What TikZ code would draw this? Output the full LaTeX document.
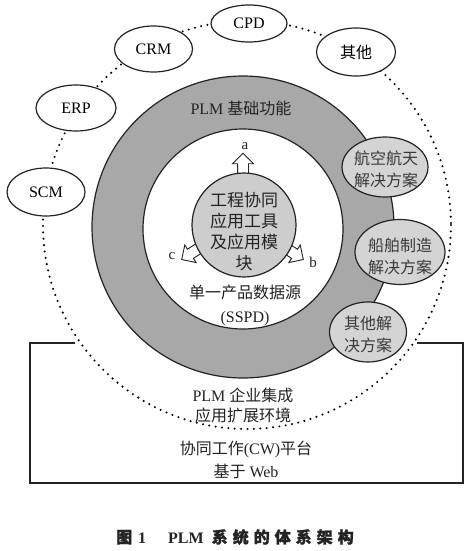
\documentclass[tikz,border=0pt]{standalone}
\usepackage{fontspec}
\setmainfont{Liberation Serif}
\newfontfamily\cjk{Noto Sans CJK SC}
\newfontfamily\cjkb{Noto Sans CJK SC}[FakeBold=1.2]
\usetikzlibrary{shapes.geometric,shapes.arrows}
\definecolor{ringgray}{RGB}{168,168,168}
\definecolor{coregray}{RGB}{205,205,205}
\definecolor{solgray}{RGB}{212,212,212}
\definecolor{ink}{RGB}{35,35,35}
\tikzset{
  outline/.style={draw=ink, line width=1.2pt},
  sysell/.style={ellipse, outline, fill=white, inner sep=0pt, font=\fontsize{16}{18}\selectfont},
  solell/.style={ellipse, outline, fill=solgray, inner sep=0pt},
  soltext/.style={align=center, font=\fontsize{16}{22}\cjk\selectfont, text=ink!90},
  blockarrow/.style={single arrow, draw=ink, line width=0.9pt, fill=white, minimum height=32pt, minimum width=20pt, inner sep=5pt, single arrow head extend=5pt, single arrow head indent=0pt},
  lbl/.style={text=ink, inner sep=0pt},
  dotline/.style={draw=black, line width=2.3pt, line cap=round, dash pattern=on 0pt off 6.4pt}
}
\begin{document}
\begin{tikzpicture}[x=1pt,y=-1pt]
\path[use as bounding box] (0,0) rectangle (471,551);
% dotted integration circle
\path[dotline] (247,225) circle[radius=204];
% platform box
\coordinate (tl) at (75,343);
\coordinate (tr) at (417,343);
\draw[outline] (tl) -- (30,343) -- (30,483) -- (463,483) -- (463,343) -- (tr);
% PLM ring
\node[circle, outline, fill=ringgray, minimum size=302pt, inner sep=0pt] (ring) at (243,227) {};
\node[circle, outline, fill=white, minimum size=200pt, inner sep=0pt] (sspd) at (243,229) {};
% block arrows (under core)
\node[blockarrow, rotate=90] (arra) at (243,172) {};
\node[blockarrow, rotate=-33] (arrb) at (287.6,249.3) {};
\node[blockarrow, rotate=-147] (arrc) at (197.4,249.3) {};
% core
\node[circle, outline, fill=coregray, minimum size=104pt, inner sep=0pt] (core) at (244,225) {};
% solution ellipses
\node[solell, minimum width=86pt, minimum height=60pt] (aero) at (385,167) {};
\node[solell, minimum width=90pt, minimum height=65pt] (ship) at (400,252) {};
\node[solell, minimum width=77pt, minimum height=60pt] (othsol) at (368,332) {};
% system ellipses
\node[sysell, minimum width=76pt, minimum height=37pt] (cpd) at (249,23.5) {CPD};
\node[sysell, minimum width=78pt, minimum height=46pt] (crm) at (153.5,49) {CRM};
\node[sysell, minimum width=79pt, minimum height=48pt, font=\fontsize{16}{18}\cjk\selectfont] (oth) at (356,52) {其他};
\node[sysell, minimum width=80pt, minimum height=46pt] (erp) at (76,108) {ERP};
\node[sysell, minimum width=78pt, minimum height=48pt] (scm) at (46,192) {SCM};
% texts
\node[lbl, font=\fontsize{16}{18}\selectfont] (plmbase) at (241,108) {PLM {\cjk 基础功能}};
\node[lbl, font=\fontsize{15}{18}\selectfont] (la) at (245,146) {a};
\node[lbl, font=\fontsize{15}{18}\selectfont] (lb) at (313,262) {b};
\node[lbl, font=\fontsize{15}{18}\selectfont] (lc) at (172,256) {c};
\node[lbl, align=center, font=\fontsize{17}{21.2}\cjk\selectfont] (coretext) at (244,231.5) {工程协同\\应用工具\\及应用模\\块};
\node[lbl, align=center, font=\fontsize{16}{24}\selectfont] (sspdtext) at (245,305) {{\cjk 单一产品数据源}\\(SSPD)};
\node[soltext] (aerot) at (386,169) {航空航天\\解决方案};
\node[soltext] (shipt) at (400,256) {船舶制造\\解决方案};
\node[soltext] (othsolt) at (368,334) {其他解\\决方案};
\node[lbl, align=center, font=\fontsize{16}{20}\selectfont] (eai) at (243,405) {PLM {\cjk 企业集成}\\{\cjk 应用扩展环境}};
\node[lbl, align=center, font=\fontsize{16}{23}\selectfont] (cw) at (246,459.5) {{\cjk 协同工作}(CW){\cjk 平台}\\{\cjk 基于} Web};
\node[lbl, font=\fontsize{16}{18}\selectfont\bfseries] (caption) at (235,537) {{\cjkb 图}\hspace{6pt}1\hspace{22pt}PLM\hspace{8pt}{\cjkb 系\hspace{5pt}统\hspace{5pt}的\hspace{5pt}体\hspace{5pt}系\hspace{5pt}架\hspace{5pt}构}};
\end{tikzpicture}
\end{document}
